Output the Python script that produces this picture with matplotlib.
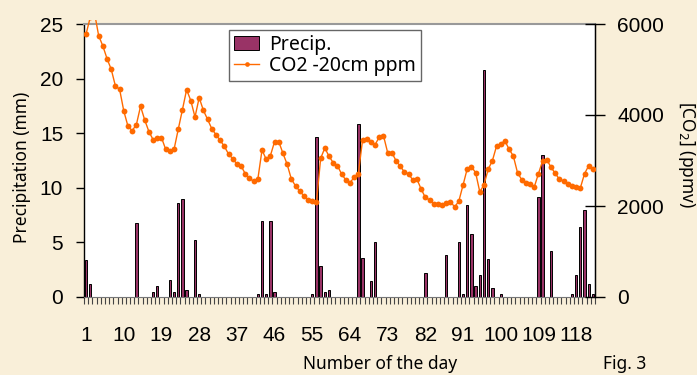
import matplotlib
matplotlib.use("Agg")
import matplotlib.pyplot as plt
from matplotlib.patches import Rectangle
import numpy as np

days = list(range(1, 123))

# precipitation (mm), non-zero days
precip_days = [1, 2, 13, 17, 18, 21, 22, 23, 24, 25, 27, 28,
               42, 43, 44, 45, 46, 55, 56, 57, 58, 59,
               66, 67, 69, 70, 82, 87, 90, 91, 92, 93, 94, 95, 96, 97, 98, 100,
               109, 110, 112, 117, 118, 119, 120, 121, 122]
precip_vals = [3.4, 1.2, 6.8, 0.45, 1.0, 1.6, 0.45, 8.6, 9.0, 0.6, 5.2, 0.25,
               0.25, 7.0, 0.25, 7.0, 0.45, 0.3, 14.65, 2.85, 0.45, 0.65,
               15.85, 3.6, 1.45, 5.0, 2.2, 3.85, 5.0, 0.25, 8.4, 5.8, 1.0, 2.0, 20.8, 3.45, 0.8, 0.3,
               9.2, 13.0, 4.2, 0.3, 2.0, 6.4, 8.0, 1.2, 0.3]

co2 = [5781, 6150, 6250, 5743, 5517, 5238, 5004, 4638, 4565, 4088,
       3752, 3656, 3787, 4191, 3890, 3634, 3458, 3495, 3502, 3246,
       3202, 3246, 3686, 4117, 4557, 4315, 3956, 4381, 4103, 3906,
       3700, 3568, 3444, 3312, 3143, 3040, 2923, 2879, 2710, 2609,
       2543, 2587, 3231, 3026, 3106, 3414, 3414, 3158, 2916, 2594,
       2440, 2330, 2220, 2132, 2110, 2081, 3048, 3275, 3092, 2952,
       2886, 2704, 2572, 2512, 2631, 2704, 3451, 3473, 3400, 3348,
       3517, 3546, 3172, 3172, 2996, 2872, 2748, 2704, 2572, 2587,
       2370, 2187, 2135, 2044, 2044, 2022, 2066, 2095, 1978, 2110,
       2462, 2820, 2864, 2732, 2308, 2469, 2806, 2996, 3319, 3370,
       3429, 3246, 3099, 2732, 2579, 2506, 2484, 2418, 2710, 2996,
       3018, 2850, 2718, 2587, 2550, 2491, 2433, 2418, 2396, 2710,
       2886, 2813]

xtick_labels = [1, 10, 19, 28, 37, 46, 55, 64, 73, 82, 91, 100, 109, 118]
left_ticks = [0, 5, 10, 15, 20, 25]
right_ticks = [0, 2000, 4000, 6000]

tick_font = "Liberation Sans"
label_font = "Noto Sans"

fig = plt.figure(figsize=(6.97, 3.75), dpi=100)
fig.patch.set_facecolor("#F9EFD9")
ax = fig.add_axes([84/697, 78/375, 511/697, 273/375])
ax.set_facecolor("white")

precip = np.zeros(len(days))
for d, v in zip(precip_days, precip_vals):
    precip[d - 1] = v

bars = ax.bar(days, precip, width=0.55, color="#993366", edgecolor="black",
              linewidth=0.7, label="Precip.", zorder=2)
ax.set_xlim(0.5, len(days) + 0.5)
ax.set_ylim(0, 25)
ax.set_yticks(left_ticks)
ax.set_xticks(xtick_labels)
ax.set_xticks(np.arange(0.5, len(days) + 1, 1.0), minor=True)
ax.tick_params(axis="x", which="major", length=0, pad=21, labelsize=15)
ax.tick_params(axis="x", which="minor", length=5, width=0.8, color="#444444", direction="out")
ax.tick_params(axis="y", length=6, width=1, direction="out", pad=9, labelsize=15)
for lab in ax.get_xticklabels() + ax.get_yticklabels():
    lab.set_fontfamily(tick_font)

ax.spines["top"].set_color("#999999")
ax.spines["top"].set_linewidth(1.5)
ax.spines["bottom"].set_color("#777777")
ax.spines["left"].set_color("black")
ax.spines["left"].set_linewidth(1.0)

ax2 = ax.twinx()
line, = ax2.plot(days, co2, color="#FF6A00", lw=1.0, marker="o", markersize=4.2,
                 markeredgewidth=0, label="CO2 -20cm ppm", zorder=3)
clip = Rectangle((0, 0), 1, 1.013, transform=ax2.transAxes)
line.set_clip_path(clip)
ax2.set_ylim(0, 6000)
ax2.set_yticks(right_ticks)
ax2.tick_params(axis="y", length=14, width=1, direction="inout", pad=9, labelsize=15)
for lab in ax2.get_yticklabels():
    lab.set_fontfamily(tick_font)
ax2.spines["right"].set_color("black")
ax2.spines["right"].set_linewidth(1.0)
ax2.spines["top"].set_visible(False)
ax2.spines["left"].set_visible(False)
ax2.spines["bottom"].set_visible(False)

leg = ax2.legend([bars, line], ["Precip.", "CO2 -20cm ppm"],
                 loc="upper left", bbox_to_anchor=(229/697, 1 - 30/375),
                 bbox_transform=fig.transFigure, borderaxespad=0,
                 frameon=True, fancybox=False, edgecolor="#666666",
                 framealpha=1, prop={"family": label_font, "size": 14},
                 handlelength=1.3, handletextpad=0.5, borderpad=0.25,
                 labelspacing=0.05, markerscale=0.8)
leg.get_frame().set_linewidth(1.0)

fig.text(22/697, 1 - 167/375, "Precipitation (mm)", rotation=90,
         ha="center", va="center", fontsize=12.5, family=label_font)
fig.text(686/697, 1 - 155/375, r"[CO$_2$] (ppmv)", rotation=270,
         ha="center", va="center", fontsize=12.5, family=label_font)
fig.text(380/697, 1 - 364/375, "Number of the day", ha="center", va="center",
         fontsize=12.5, family=label_font)
fig.text(625/697, 1 - 364/375, "Fig. 3", ha="center", va="center",
         fontsize=12.5, family=label_font)

fig.savefig("out.png", dpi=100, facecolor=fig.get_facecolor())
